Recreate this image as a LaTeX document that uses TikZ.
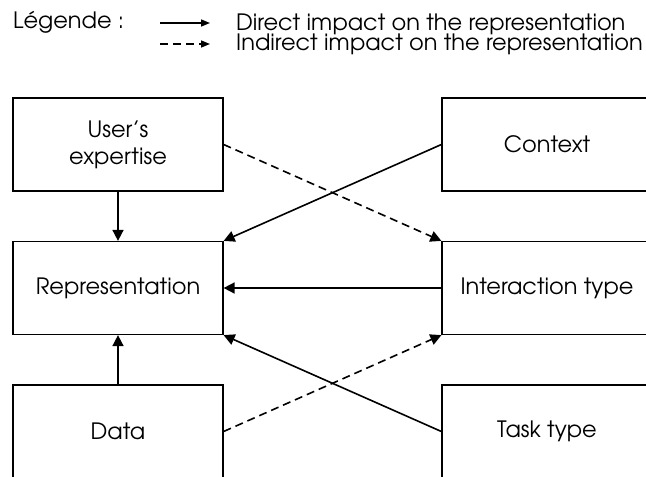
\documentclass[tikz,border=0pt]{standalone}
\usepackage{fontspec}
\setmainfont{texgyreadventor}[Extension=.otf,UprightFont=*-regular,BoldFont=*-bold,ItalicFont=*-italic,BoldItalicFont=*-bolditalic]
\usetikzlibrary{arrows.meta}
\begin{document}
\begin{tikzpicture}[x=1pt,y=-1pt,
  box/.style={draw,line width=1.2pt,minimum width=210pt,minimum height=93pt,inner sep=0pt,align=center,font=\fontsize{22.5}{27}\selectfont},
  arr/.style={line width=1.6pt,-{Triangle[length=11pt,width=11pt]}},
  darr/.style={arr,dash pattern=on 8pt off 5pt},
  legarr/.style={line width=1.5pt,-{Triangle[length=9pt,width=7pt]}},
  lbl/.style={anchor=base west,inner sep=0pt,font=\fontsize{22.5}{22.5}\selectfont}]
\path[use as bounding box] (0,0) rectangle (646,477);
\clip (0,0) rectangle (646,477);
% legend
\node[lbl] (leg) at (13,28) {Légende :};
\coordinate (s1) at (160,23);
\coordinate (e1) at (210,23);
\draw[legarr] (s1) -- (e1);
\node[lbl] (t1) at (236,30) {Direct impact on the representation};
\coordinate (s2) at (160,44);
\coordinate (e2) at (210,44);
\draw[legarr,dash pattern=on 8pt off 5pt] (s2) -- (e2);
\node[lbl] (t2) at (236,50.5) {Indirect impact on the representation};
% boxes
\node[box] (ue) at (118,144.5) {User’s\\expertise};
\node[box] (ctx) at (547,144.5) {Context};
\node[box] (rep) at (118,288) {Representation};
\node[box] (it) at (547,288) {Interaction type};
\node[box] (dat) at (118,431.5) {Data};
\node[box] (tsk) at (547,431.5) {Task type};
% connectors
\draw[arr] (ue.south) -- (rep.north);
\draw[arr] (dat.north) -- (rep.south);
\draw[arr] (ctx.west) -- (rep.north east);
\draw[arr] (it.west) -- (rep.east);
\draw[arr] (tsk.west) -- (rep.south east);
\draw[darr] (ue.east) -- (it.north west);
\draw[darr] (dat.east) -- (it.south west);
\end{tikzpicture}
\end{document}
